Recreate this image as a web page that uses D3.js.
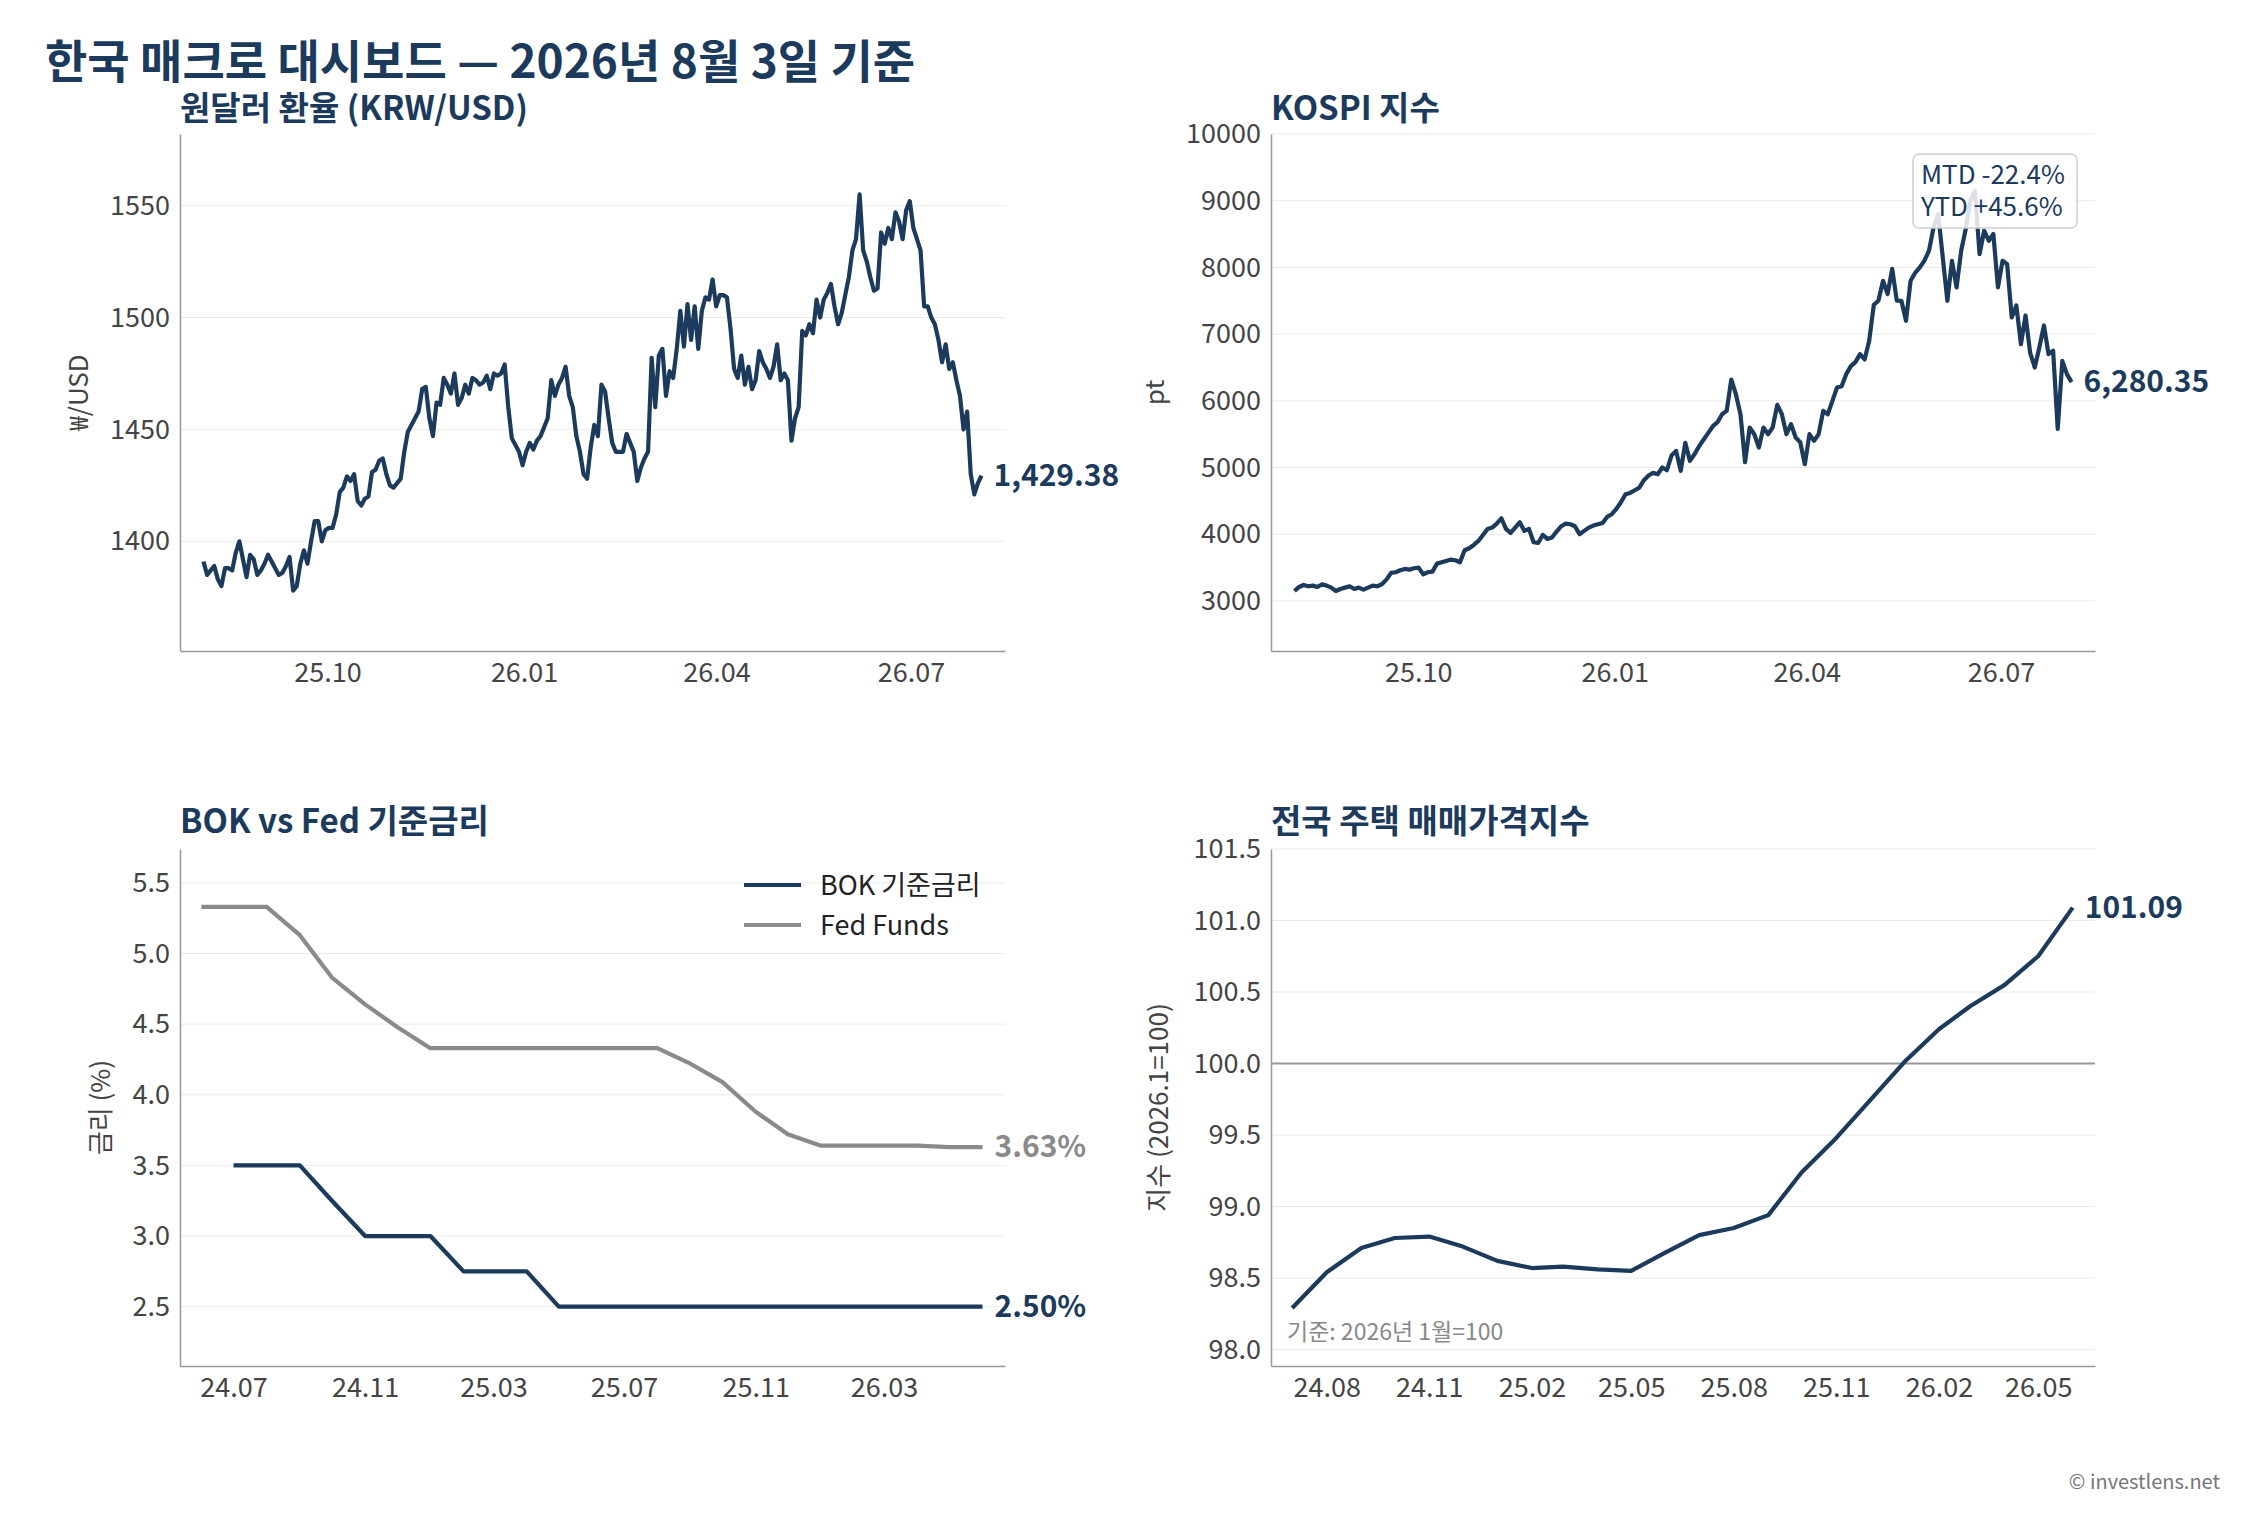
<!DOCTYPE html>
<html><head><meta charset="utf-8">
<script src="https://cdn.jsdelivr.net/npm/d3@7"></script>
<style>body{margin:0;background:#fff}text{font-family:"Noto Sans CJK KR","Noto Sans",sans-serif}</style>
</head><body><svg id="c" width="2261" height="1537"></svg>
<script>
const krwValues=[1391,1385,1387,1389,1383,1380,1388,1388,1387,1395,1400,1392,1384,1394,1392,1385,1387,1390,1394,1391,1388,1385,1386,1389,1393,1378,1380,1390,1396,1390,1400,1409,1409,1400,1405,1406,1406,1412,1422,1424,1429,1427,1430,1418,1416,1419,1420,1431,1432,1436,1437,1430,1425,1424,1426,1428,1440,1449,1452,1455,1458,1468,1469,1455,1447,1462,1461,1473,1470,1466,1475,1461,1464,1470,1466,1473,1472,1470,1471,1474,1468,1475,1474,1475,1479,1460,1446,1443,1440,1434,1440,1444,1441,1445,1447,1451,1455,1472,1465,1470,1473,1478,1465,1460,1447,1440,1430,1428,1442,1452,1447,1470,1467,1455,1444,1440,1440,1440,1448,1444,1440,1427,1433,1437,1440,1482,1460,1483,1486,1465,1476,1473,1486,1503,1487,1506,1490,1505,1486,1503,1509,1508,1517,1505,1510,1510,1509,1495,1477,1473,1483,1470,1478,1468,1472,1485,1480,1477,1473,1478,1488,1472,1475,1472,1445,1455,1460,1494,1492,1497,1493,1508,1500,1508,1511,1515,1505,1497,1502,1510,1518,1530,1535,1555,1530,1525,1518,1512,1513,1538,1533,1540,1535,1547,1543,1535,1548,1552,1540,1535,1530,1505,1505,1500,1497,1490,1480,1488,1477,1480,1472,1465,1450,1458,1430,1421,1426,1429.38];
const kospiValues=[3150,3210,3240,3220,3230,3210,3250,3230,3200,3150,3180,3200,3220,3180,3200,3170,3200,3230,3220,3250,3320,3420,3430,3460,3480,3470,3490,3500,3400,3430,3440,3560,3580,3600,3620,3610,3580,3760,3790,3840,3900,3990,4080,4100,4160,4240,4080,4020,4100,4180,4050,4080,3880,3870,3990,3930,3950,4040,4120,4160,4150,4120,4000,4050,4100,4130,4150,4170,4260,4300,4380,4480,4600,4620,4660,4700,4810,4880,4920,4900,5000,4960,5180,5250,4950,5370,5100,5200,5320,5420,5520,5620,5680,5800,5850,6320,6100,5800,5080,5600,5500,5300,5600,5500,5600,5940,5800,5500,5650,5450,5380,5050,5500,5400,5500,5850,5800,6000,6200,6220,6400,6520,6580,6700,6620,6900,7440,7500,7800,7600,7980,7500,7500,7200,7800,7920,8000,8100,8250,8600,8800,8150,7500,8100,7700,8250,8580,9000,9150,8200,8550,8400,8500,7700,8100,8050,7250,7430,6850,7280,6720,6500,6800,7130,6700,6750,5580,6600,6400,6280.35];
const dailyStart="2025-08-04", dailyEnd="2026-08-03";
const dailyTicks=["2025-10-01","2026-01-01","2026-04-01","2026-07-01"];
const bokMonths=["2024-07","2024-08","2024-09","2024-10","2024-11","2024-12","2025-01","2025-02","2025-03","2025-04","2025-05","2025-06","2025-07","2025-08","2025-09","2025-10","2025-11","2025-12","2026-01","2026-02","2026-03","2026-04","2026-05","2026-06"];
const bokValues=[3.5,3.5,3.5,3.25,3.0,3.0,3.0,2.75,2.75,2.75,2.5,2.5,2.5,2.5,2.5,2.5,2.5,2.5,2.5,2.5,2.5,2.5,2.5,2.5];
const fedMonths=["2024-06"].concat(bokMonths);
const fedValues=[5.33,5.33,5.33,5.13,4.83,4.64,4.48,4.33,4.33,4.33,4.33,4.33,4.33,4.33,4.33,4.22,4.09,3.88,3.72,3.64,3.64,3.64,3.64,3.63,3.63];
const rateTicks=["2024-07","2024-11","2025-03","2025-07","2025-11","2026-03"];
const houseMonths=bokMonths;
const houseValues=[98.29,98.54,98.71,98.78,98.79,98.72,98.62,98.57,98.58,98.56,98.55,98.68,98.80,98.85,98.94,99.24,99.48,99.74,100.01,100.24,100.40,100.55,100.75,101.09];
const houseTicks=["2024-08","2024-11","2025-02","2025-05","2025-08","2025-11","2026-02","2026-05"];

const NAVY="#1b3a5c", GRAY="#8a8a8a";
const svg=d3.select("#c");
const pd=d3.timeParse("%Y-%m-%d"), pm=d3.timeParse("%Y-%m");
const fmtTick=d3.timeFormat("%y.%m");
svg.append("text").attr("x",45).attr("y",78).attr("font-size",46).attr("font-weight",700).attr("fill",NAVY).text("한국 매크로 대시보드 — 2026년 8월 3일 기준");
svg.append("text").attr("x",2220).attr("y",1489).attr("text-anchor","end").attr("font-size",20).attr("fill","#777").text("© investlens.net");

function panel(o){
  const g=svg.append("g");
  const x=d3.scaleTime().domain(o.xd).range([o.l,o.r]);
  const y=d3.scaleLinear().domain(o.yd).range([o.b,o.t]);
  g.append("g").selectAll("line").data(o.yt).join("line").attr("x1",o.l).attr("x2",o.r)
    .attr("y1",d=>y(d)).attr("y2",d=>y(d)).attr("stroke","#ebebeb").attr("stroke-width",1);
  if(o.ref!==undefined) g.append("line").attr("x1",o.l).attr("x2",o.r).attr("y1",y(o.ref)).attr("y2",y(o.ref)).attr("stroke","#999").attr("stroke-width",2);
  const ya=g.append("g").attr("transform",`translate(${o.l},0)`).call(d3.axisLeft(y).tickValues(o.yt).tickFormat(o.yf).tickSize(0).tickPadding(10));
  const xa=g.append("g").attr("transform",`translate(0,${o.b})`).call(d3.axisBottom(x).tickValues(o.xt).tickFormat(fmtTick).tickSize(0).tickPadding(12));
  [ya,xa].forEach(a=>{a.select(".domain").attr("stroke","#999").attr("stroke-width",1.5);a.selectAll("text").attr("font-size",27).attr("fill","#444").attr("font-family","Noto Sans CJK KR");});
  g.append("text").attr("x",o.l).attr("y",o.t-o.tg).attr("font-size",33).attr("font-weight",700).attr("fill",NAVY).text(o.title);
  g.append("text").attr("transform",`translate(${o.ylx},${(o.t+o.b)/2}) rotate(-90)`).attr("text-anchor","middle").attr("font-size",26).attr("fill","#444").text(o.ylab);
  o.series.forEach(s=>{
    g.append("path").datum(s.d).attr("fill","none").attr("stroke",s.c).attr("stroke-width",4.2).attr("stroke-linejoin","round")
      .attr("d",d3.line().x(d=>x(d[0])).y(d=>y(d[1])));
    const last=s.d[s.d.length-1];
    g.append("text").attr("x",x(last[0])+12).attr("y",y(last[1])+10).attr("font-size",30).attr("font-weight",700).attr("fill",s.c).text(s.lab);
  });
  return {g,x,y};
}
const span=pd(dailyEnd)-pd(dailyStart);
const dates=krwValues.map((v,i)=>new Date(+pd(dailyStart)+span*i/(krwValues.length-1)));
const kdates=kospiValues.map((v,i)=>new Date(+pd(dailyStart)+span*i/(kospiValues.length-1)));
const dxd=[pd("2025-07-24"),pd("2026-08-14")];
const L1=180,R1=1005,L2=1271,R2=2095,T1=134,B1=651,T2=849,B2=1366;
panel({l:L1,r:R1,t:T1,b:B1,tg:14,xd:dxd,yd:[1351,1582],yt:[1400,1450,1500,1550],yf:d3.format("d"),xt:dailyTicks.map(pd),
  title:"원달러 환율 (KRW/USD)",ylab:"₩/USD",ylx:88,series:[{d:krwValues.map((v,i)=>[dates[i],v]),c:NAVY,lab:"1,429.38"}]});
const k=panel({l:L2,r:R2,t:T1,b:B1,tg:14,xd:dxd,yd:[2250,10000],yt:[3000,4000,5000,6000,7000,8000,9000,10000],yf:d3.format("d"),xt:dailyTicks.map(pd),
  title:"KOSPI 지수",ylab:"pt",ylx:1164,series:[{d:kospiValues.map((v,i)=>[kdates[i],v]),c:NAVY,lab:"6,280.35"}]});
const bx=k.g.append("g").attr("transform","translate(1913,154)");
bx.append("rect").attr("width",164).attr("height",74).attr("rx",6).attr("fill","rgba(255,255,255,0.85)").attr("stroke","#d0d0d0").attr("stroke-width",1.5);
bx.append("text").attr("x",8).attr("y",30).attr("font-size",26).attr("fill",NAVY).text("MTD -22.4%");
bx.append("text").attr("x",8).attr("y",62).attr("font-size",26).attr("fill",NAVY).text("YTD +45.6%");
const r=panel({l:L1,r:R1,t:T2,b:B2,tg:16,xd:[pd("2024-05-12"),pd("2026-06-22")],yd:[2.08,5.74],yt:[2.5,3.0,3.5,4.0,4.5,5.0,5.5],yf:d3.format(".1f"),xt:rateTicks.map(pm),
  title:"BOK vs Fed 기준금리",ylab:"금리 (%)",ylx:110,series:[
   {d:fedValues.map((v,i)=>[pm(fedMonths[i]),v]),c:GRAY,lab:"3.63%"},
   {d:bokValues.map((v,i)=>[pm(bokMonths[i]),v]),c:NAVY,lab:"2.50%"}]});
[["BOK 기준금리",NAVY],["Fed Funds",GRAY]].forEach((d,i)=>{
  r.g.append("line").attr("x1",744).attr("x2",801).attr("y1",885+i*40).attr("y2",885+i*40).attr("stroke",d[1]).attr("stroke-width",4.2);
  r.g.append("text").attr("x",820).attr("y",895+i*40).attr("font-size",27).attr("fill","#222").text(d[0]);
});
const h=panel({l:L2,r:R2,t:T2,b:B2,tg:16,ref:100,xd:[pd("2024-06-12"),pd("2026-06-21")],yd:[97.885,101.5],yt:[98.0,98.5,99.0,99.5,100.0,100.5,101.0,101.5],yf:d3.format(".1f"),xt:houseTicks.map(pm),
  title:"전국 주택 매매가격지수",ylab:"지수 (2026.1=100)",ylx:1168,series:[{d:houseValues.map((v,i)=>[pm(houseMonths[i]),v]),c:NAVY,lab:"101.09"}]});
h.g.append("text").attr("x",1287).attr("y",1340).attr("font-size",23).attr("fill","#888").text("기준: 2026년 1월=100");
</script></body></html>
